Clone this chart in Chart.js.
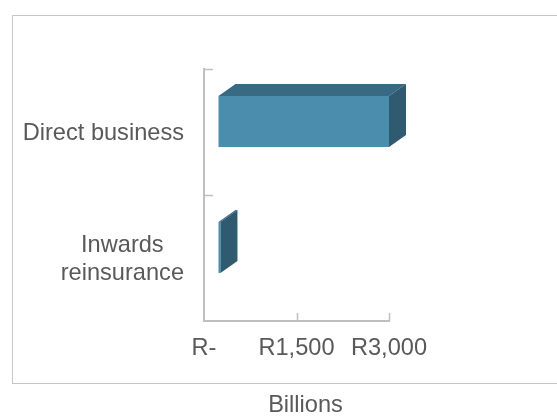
<!DOCTYPE html>
<html>
<head>
<meta charset="utf-8">
<script src="https://cdn.jsdelivr.net/npm/chart.js@4/dist/chart.umd.min.js"></script>
<style>
  html, body { margin: 0; padding: 0; background: #ffffff; }
  canvas { display: block; }
</style>
</head>
<body>
<canvas id="c" width="557" height="416"></canvas>
<script>
const categories = [['Direct business'], ['Inwards', 'reinsurance']];
const values = [2773, 40];
const xTickValues = [0, 1500, 3000];
const xTickLabels = ['R-', 'R1,500', 'R3,000'];
const axisTitle = 'Billions';

const FONT = 'Liberation Sans, Arial, sans-serif';
const FSIZE = 23.6;
const TEXT = '#595959';
const AXIS = '#bfbfbf';

const frontShift = { x: 14, y: -10.5 };
const depth = { x: 17, y: -12 };

const framePlugin = {
  id: 'frame',
  beforeDraw(chart) {
    const ctx = chart.ctx;
    ctx.save();
    ctx.fillStyle = '#ffffff';
    ctx.fillRect(0, 0, chart.width, chart.height);
    ctx.strokeStyle = '#c6c6c6';
    ctx.lineWidth = 1;
    ctx.strokeRect(12.5, 15.5, chart.width, 368);
    ctx.restore();
  }
};

const bar3dPlugin = {
  id: 'bar3d',
  beforeDatasetDraw() { return false; },
  afterDatasetsDraw(chart) {
    const ctx = chart.ctx;
    const meta = chart.getDatasetMeta(0);
    ctx.save();
    meta.data.forEach(el => {
      const p = el.getProps(['x', 'y', 'base', 'height'], true);
      const x0 = p.base + frontShift.x;
      const x1 = p.x + frontShift.x;
      const y0 = p.y - p.height / 2 + frontShift.y;
      const y1 = p.y + p.height / 2 + frontShift.y;
      ctx.fillStyle = '#4b8dad';
      ctx.fillRect(x0, y0, x1 - x0, y1 - y0);
      ctx.fillStyle = '#386a84';
      ctx.beginPath();
      ctx.moveTo(x0, y0);
      ctx.lineTo(x1, y0);
      ctx.lineTo(x1 + depth.x, y0 + depth.y);
      ctx.lineTo(x0 + depth.x, y0 + depth.y);
      ctx.closePath();
      ctx.fill();
      ctx.fillStyle = '#2f5a70';
      ctx.beginPath();
      ctx.moveTo(x1, y0);
      ctx.lineTo(x1 + depth.x, y0 + depth.y);
      ctx.lineTo(x1 + depth.x, y1 + depth.y);
      ctx.lineTo(x1, y1);
      ctx.closePath();
      ctx.fill();
    });
    ctx.restore();
  }
};

const axisDecorPlugin = {
  id: 'axisDecor',
  afterDraw(chart) {
    const ctx = chart.ctx;
    const xs = chart.scales.x, ys = chart.scales.y;
    const ca = chart.chartArea;
    ctx.save();
    ctx.strokeStyle = AXIS;
    ctx.lineWidth = 1.5;
    xTickValues.forEach(v => {
      if (v === 0) return;
      const px = Math.round(xs.getPixelForValue(v)) + 0.5;
      ctx.beginPath();
      ctx.moveTo(px, ca.bottom);
      ctx.lineTo(px, ca.bottom - 8);
      ctx.stroke();
    });
    for (let i = 0; i < categories.length; i++) {
      const py = Math.round(ys.getPixelForValue(i - 0.5)) + 0.5;
      ctx.beginPath();
      ctx.moveTo(ca.left, py);
      ctx.lineTo(ca.left + 9, py);
      ctx.stroke();
    }
    ctx.fillStyle = TEXT;
    ctx.font = FSIZE + 'px ' + FONT;
    ctx.textBaseline = 'middle';
    ctx.textAlign = 'center';
    const lh = 28;
    categories.forEach((lines, i) => {
      const cy = ys.getPixelForTick(i);
      const w = Math.max(...lines.map(l => ctx.measureText(l).width));
      const cx = ca.left - 20 - w / 2;
      lines.forEach((l, j) => {
        const ly = cy + (j - (lines.length - 1) / 2) * lh + 1;
        ctx.fillText(l, cx, ly);
      });
    });
    // axis title (slightly right of the plot centre, as in the original)
    ctx.fillText(axisTitle, (ca.left + ca.right) / 2 + 9, 405);
    ctx.restore();
  }
};

new Chart(document.getElementById('c'), {
  type: 'bar',
  data: {
    labels: categories,
    datasets: [{
      data: values,
      backgroundColor: '#4b8dad',
      categoryPercentage: 1,
      barPercentage: 0.405
    }]
  },
  options: {
    indexAxis: 'y',
    responsive: false,
    animation: false,
    devicePixelRatio: 1,
    layout: { padding: { left: 0, right: 168, top: 69, bottom: 0 } },
    plugins: { legend: { display: false }, tooltip: { enabled: false } },
    scales: {
      x: {
        type: 'linear',
        min: 0,
        max: 3000,
        afterBuildTicks(scale) { scale.ticks = xTickValues.map(v => ({ value: v })); },
        afterFit(scale) { scale.height = 95; },
        grid: { drawOnChartArea: false, drawTicks: false },
        border: { display: true, color: AXIS, width: 2 },
        ticks: {
          padding: 13,
          color: TEXT,
          font: { family: FONT, size: FSIZE },
          callback(v) { const i = xTickValues.indexOf(v); return i >= 0 ? xTickLabels[i] : ''; }
        },
        title: { display: false, text: axisTitle }
      },
      y: {
        type: 'category',
        offset: true,
        afterFit(scale) { scale.width = 204; },
        grid: { drawOnChartArea: false, drawTicks: false, offset: true },
        border: { display: true, color: AXIS, width: 2 },
        ticks: {
          padding: 20,
          color: 'rgba(0,0,0,0)',
          font: { family: FONT, size: FSIZE }
        }
      }
    }
  },
  plugins: [framePlugin, bar3dPlugin, axisDecorPlugin]
});
</script>
</body>
</html>
